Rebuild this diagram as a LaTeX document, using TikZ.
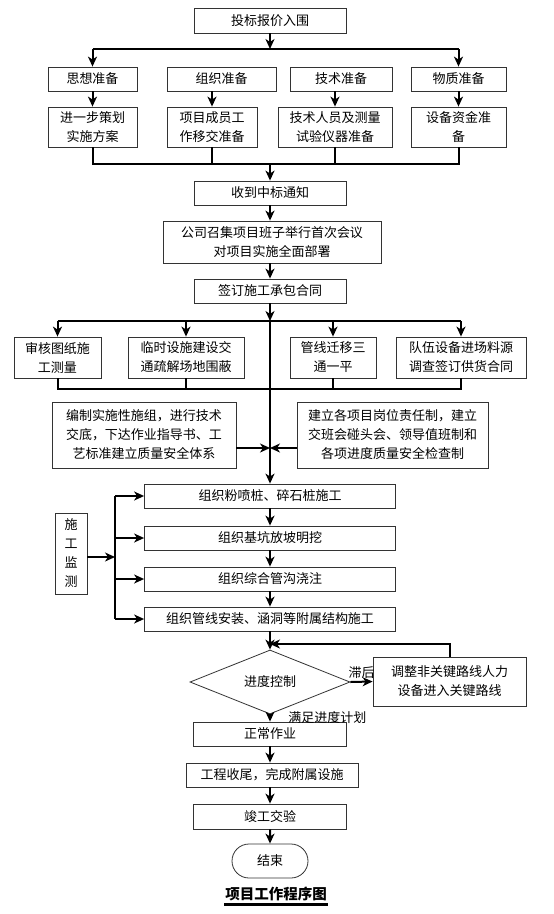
\documentclass[tikz,border=0pt]{standalone}
\usepackage{fontspec}
\newfontfamily\cjk{Noto Sans CJK SC}
\usetikzlibrary{arrows.meta,shapes.geometric,shapes.misc}

\begin{document}
\begin{tikzpicture}[x=1pt,y=-1pt,
	font=\cjk\fontsize{13}{19}\selectfont,
	box/.style={draw=black!80,line width=0.8pt,inner sep=0pt,align=center},
	line/.style={line width=2pt},
	arr/.style={line width=2pt,-{Stealth[length=10pt,width=9pt,inset=3pt]}}]
	\useasboundingbox (0,0) rectangle (554,914);

	\node[box,minimum width=152,minimum height=25] (bid) at (270,20.5) {投标报价入围};
	\coordinate (bar1) at (270,49);
	\node[box,minimum width=89,minimum height=24] (prep1) at (92.5,79) {思想准备};
	\node[box,minimum width=109,minimum height=24] (prep2) at (221.5,79) {组织准备};
	\node[box,minimum width=102,minimum height=24] (prep3) at (341,79) {技术准备};
	\node[box,minimum width=95,minimum height=24] (prep4) at (458.5,79) {物质准备};
	\node[box,minimum width=89,minimum height=40] (plan1) at (92.5,127) {进一步策划\\实施方案};
	\node[box,minimum width=90,minimum height=40] (plan2) at (212,127) {项目成员工\\作移交准备};
	\node[box,minimum width=114,minimum height=40] (plan3) at (335,127) {技术人员及测量\\试验仪器准备};
	\node[box,minimum width=95,minimum height=40] (plan4) at (458.5,127) {设备资金准\\备};
	\coordinate (bar2) at (270,164);

	\draw[arr] (bid) -- (bar1);
	\draw[line] (prep1.north |- bar1) -- (prep4.north |- bar1);
	\draw[arr] (prep1.north |- bar1) -- (prep1.north);
	\draw[arr] (prep4.north |- bar1) -- (prep4.north);
	\foreach \i in {1,...,4}
		\draw[arr] (plan\i.north |- prep\i.south) -- (plan\i.north);
	\draw[line] (plan1.south) -- (plan1.south |- bar2) -- (plan4.south |- bar2) -- (plan4.south);
	\draw[line] (plan2.south) -- (plan2.south |- bar2);
	\draw[line] (plan3.south) -- (plan3.south |- bar2);

	\node[box,minimum width=152,minimum height=24] (notice) at (270,193) {收到中标通知};
	\node[box,minimum width=218,minimum height=42] (meeting) at (272,242) {公司召集项目班子举行首次会议\\对项目实施全面部署};
	\node[box,minimum width=152,minimum height=24] (contract) at (270,291) {签订施工承包合同};
	\draw[arr] (bar2) -- (notice);
	\draw[arr] (notice) -- (notice.south |- meeting.north);
	\draw[arr] (notice.south |- meeting.south) -- (contract);

	\coordinate (bar3) at (270,321);
	\coordinate (bar4) at (270,389);
	\node[box,minimum width=87,minimum height=41] (pre1) at (57.5,357.5) {审核图纸施\\工测量};
	\node[box,minimum width=116,minimum height=41] (pre2) at (186,357.5) {临时设施建设交\\通疏解场地围蔽};
	\node[box,minimum width=86,minimum height=41] (pre3) at (333,357.5) {管线迁移三\\通一平};
	\node[box,minimum width=130,minimum height=41] (pre4) at (461,357.5) {队伍设备进场料源\\调查签订供货合同};
	\draw[arr] (contract) -- (bar3);
	\draw[line] (pre1.north |- bar3) -- (pre4.north |- bar3);
	\foreach \i in {1,...,4}
		\draw[arr] (pre\i.north |- bar3) -- (pre\i.north);
	\draw[line] (pre1.south) -- (pre1.south |- bar4) -- (pre4.south |- bar4) -- (pre4.south);
	\draw[line] (pre2.south) -- (pre2.south |- bar4);
	\draw[line] (pre3.south) -- (pre3.south |- bar4);

	\node[box,minimum width=184,minimum height=66] (tech) at (144,435) {编制实施性施组，进行技术\\交底，下达作业指导书、工\\艺标准建立质量安全体系};
	\node[box,minimum width=191,minimum height=66] (resp) at (392.5,435) {建立各项目岗位责任制，建立\\交班会碰头会、领导值班制和\\各项进度质量安全检查制};
	\coordinate (meet) at (270,448);

	\node[box,minimum width=251,minimum height=24] (pile) at (270,496) {组织粉喷桩、碎石桩施工};
	\node[box,minimum width=251,minimum height=24] (pit) at (270,538) {组织基坑放坡明挖};
	\node[box,minimum width=251,minimum height=24] (duct) at (270,579) {组织综合管沟浇注};
	\node[box,minimum width=251,minimum height=24] (pipe) at (270,619) {组织管线安装、涵洞等附属结构施工};
	\draw[arr] (bar3) -- (pile);
	\draw[arr] (tech.east |- meet) -- (meet);
	\draw[arr] (resp.west |- meet) -- (meet);
	\draw[arr] (pile) -- (pit);
	\draw[arr] (pit) -- (duct);
	\draw[arr] (duct) -- (pipe);

	\node[box,minimum width=32,minimum height=81] (monitor) at (71,553.5) {施\\工\\监\\测};
	\coordinate (fork) at (115,557);
	\draw[arr] (monitor.east |- fork) -- (fork);
	\draw[line] (fork |- pile) -- (fork |- pipe);
	\foreach \n in {pile,pit,duct,pipe}
		\draw[arr] (fork |- \n) -- (\n.west);

	\node[box,diamond,minimum width=160,minimum height=58] (ctrl) at (270,682) {进度控制};
	\node[box,minimum width=153,minimum height=49] (adjust) at (449.5,681.5) {调整非关键路线人力\\设备进入关键路线};
	\coordinate (back) at (270,644);
	\draw[arr] (pipe) -- (ctrl);
	\draw[arr] (ctrl.east) -- node[above,inner sep=2pt] {滞后} (adjust.west);
	\draw[arr] (adjust.north) |- (back);

	\node[box,minimum width=153,minimum height=24] (normal) at (270,734) {正常作业};
	\node[box,minimum width=172,minimum height=24] (finish) at (272,775) {工程收尾，完成附属设施};
	\node[box,minimum width=153,minimum height=25] (accept) at (270,816.5) {竣工交验};
	\node[box,rounded rectangle,minimum width=76,minimum height=34] (end) at (270,861) {结束};
	\draw[arr] (ctrl.south) -- node[anchor=west,xshift=14pt] {满足进度计划} (normal);
	\draw[arr] (normal) -- (normal.south |- finish.north);
	\draw[arr] (normal.south |- finish.south) -- (accept);
	\draw[arr] (accept) -- (end);

	\node[inner sep=1pt,font=\cjk\bfseries\fontsize{14.5}{16}\selectfont] (title) at (276,894) {项目工作程序图};
	\draw[line width=3pt] ([yshift=-2pt]title.south west) -- ([yshift=-2pt]title.south east);
\end{tikzpicture}
\end{document}
